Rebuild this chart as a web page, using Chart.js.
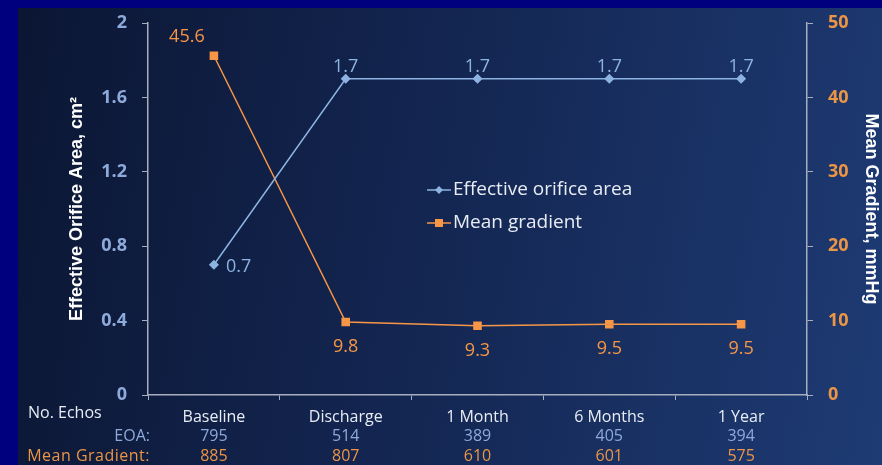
<!DOCTYPE html>
<html>
<head>
<meta charset="utf-8">
<script src="https://cdn.jsdelivr.net/npm/chart.js@4"></script>
<style>
  html, body { margin: 0; padding: 0; width: 882px; height: 465px; overflow: hidden; background: #00007f; }
  #panel {
    position: absolute; left: 18px; top: 8px; width: 864px; height: 457px;
    background: linear-gradient(100deg, #0b1633 0%, #132550 45%, #1e3b74 100%);
  }
  canvas { display: block; }
</style>
</head>
<body>
<div id="panel"><canvas id="chart" width="864" height="457"></canvas></div>
<script>
const categories = ['Baseline', 'Discharge', '1 Month', '6 Months', '1 Year'];
const eoaValues = [0.7, 1.7, 1.7, 1.7, 1.7];
const gradientValues = [45.6, 9.8, 9.3, 9.5, 9.5];
const eoaEchos = [795, 514, 389, 405, 394];
const gradientEchos = [885, 807, 610, 601, 575];
const eoaTicks = [0, 0.4, 0.8, 1.2, 1.6, 2];
const gradientTicks = [0, 10, 20, 30, 40, 50];

const BLUE = '#8db3e2';
const BLUE_TEXT = '#8eaadb';
const ORANGE = '#f79646';
const ORANGE_TEXT = '#eb9545';
const WHITE = '#e8ecf4';
const AXIS = '#a7aebd';
const FONT = '"Open Sans", Lato, sans-serif';
const TITLE_FONT = '"Liberation Sans", Arial, sans-serif';

// point value labels
const valueLabels = {
  id: 'valueLabels',
  afterDatasetsDraw(chart) {
    const ctx = chart.ctx;
    ctx.save();
    ctx.font = '18px ' + FONT;
    ctx.textBaseline = 'middle';
    chart.getDatasetMeta(0).data.forEach((pt, i) => {
      ctx.fillStyle = BLUE;
      if (i === 0) {
        ctx.textAlign = 'left';
        ctx.fillText(String(eoaValues[i]), pt.x + 12, pt.y + 2);
      } else {
        ctx.textAlign = 'center';
        ctx.fillText(String(eoaValues[i]), pt.x, pt.y - 12);
      }
    });
    chart.getDatasetMeta(1).data.forEach((pt, i) => {
      ctx.fillStyle = ORANGE;
      ctx.textAlign = 'center';
      if (i === 0) ctx.fillText(String(gradientValues[i]), pt.x - 27, pt.y - 19);
      else ctx.fillText(String(gradientValues[i]), pt.x, pt.y + 25);
    });
    ctx.restore();
  }
};

// legend inside the plot area
const innerLegend = {
  id: 'innerLegend',
  afterDraw(chart) {
    const ctx = chart.ctx;
    const x0 = 409, rows = [
      { y: 182, color: BLUE, text: 'Effective orifice area', style: 'diamond' },
      { y: 215, color: ORANGE, text: 'Mean gradient', style: 'square' }
    ];
    ctx.save();
    rows.forEach(r => {
      ctx.strokeStyle = r.color;
      ctx.fillStyle = r.color;
      ctx.lineWidth = 1.5;
      ctx.beginPath();
      ctx.moveTo(x0, r.y);
      ctx.lineTo(x0 + 24, r.y);
      ctx.stroke();
      const cx = x0 + 12;
      ctx.beginPath();
      if (r.style === 'diamond') {
        ctx.moveTo(cx, r.y - 4); ctx.lineTo(cx + 4, r.y); ctx.lineTo(cx, r.y + 4); ctx.lineTo(cx - 4, r.y);
        ctx.closePath(); ctx.fill();
      } else {
        ctx.fillRect(cx - 4, r.y - 4, 8, 8);
      }
      ctx.fillStyle = WHITE;
      ctx.font = '19px ' + FONT;
      ctx.textAlign = 'left';
      ctx.textBaseline = 'middle';
      ctx.fillText(r.text, x0 + 26, r.y);
    });
    ctx.restore();
  }
};

// echo counts under the category axis
const echoTable = {
  id: 'echoTable',
  afterDraw(chart) {
    const ctx = chart.ctx;
    const xs = chart.scales.x;
    ctx.save();
    ctx.textBaseline = 'middle';
    ctx.font = '16px ' + FONT;
    ctx.fillStyle = WHITE;
    ctx.textAlign = 'left';
    ctx.fillText('No. Echos', 10, 405);
    ctx.textAlign = 'right';
    ctx.fillStyle = BLUE_TEXT;
    ctx.fillText('EOA:', 132, 428);
    ctx.fillStyle = ORANGE_TEXT;
    ctx.letterSpacing = '0.5px';
    ctx.fillText('Mean Gradient:', 132, 448);
    ctx.letterSpacing = '0px';
    ctx.textAlign = 'center';
    categories.forEach((c, i) => {
      const x = xs.getPixelForValue(i);
      ctx.fillStyle = BLUE_TEXT;
      ctx.fillText(String(eoaEchos[i]), x, 428);
      ctx.fillStyle = ORANGE_TEXT;
      ctx.fillText(String(gradientEchos[i]), x, 448);
    });
    ctx.restore();
  }
};

new Chart(document.getElementById('chart'), {
  type: 'line',
  data: {
    labels: categories,
    datasets: [
      {
        label: 'Effective orifice area', data: eoaValues, yAxisID: 'y',
        borderColor: BLUE, backgroundColor: BLUE, borderWidth: 1.5,
        pointStyle: 'rectRot', pointRadius: 4, pointHoverRadius: 4
      },
      {
        label: 'Mean gradient', data: gradientValues, yAxisID: 'y1',
        borderColor: ORANGE, backgroundColor: ORANGE, borderWidth: 1.5,
        pointStyle: 'rect', pointRadius: 5, pointHoverRadius: 5
      }
    ]
  },
  options: {
    responsive: false,
    animation: false,
    devicePixelRatio: 1,
    layout: { padding: { top: 15, left: 0, right: 0, bottom: 0 } },
    plugins: { legend: { display: false }, tooltip: { enabled: false } },
    scales: {
      x: {
        offset: true,
        grid: { display: true, drawOnChartArea: false, offset: true, tickLength: 5, color: AXIS },
        border: { color: AXIS, width: 1.5 },
        ticks: { color: WHITE, font: { family: FONT, size: 16 }, padding: 8, maxRotation: 0 },
        afterFit(s) { s.height = 70; s.paddingLeft = 0; s.paddingRight = 0; }
      },
      y: {
        position: 'left', min: 0, max: 2,
        afterBuildTicks(s) { s.ticks = eoaTicks.map(v => ({ value: v })); },
        grid: { display: true, drawOnChartArea: false, tickLength: 6, color: AXIS },
        border: { color: AXIS, width: 1.5 },
        ticks: { color: BLUE_TEXT, font: { family: FONT, size: 18, weight: 'bold' }, padding: 15, callback: v => String(v) },
        title: { display: true, text: 'Effective Orifice Area, cm²', color: '#ffffff',
          font: { family: TITLE_FONT, size: 18, weight: 'bold' }, padding: { top: 48, bottom: 0 } },
        afterFit(s) { s.width = 130; s.paddingTop = 0; s.paddingBottom = 0; }
      },
      y1: {
        position: 'right', min: 0, max: 50,
        afterBuildTicks(s) { s.ticks = gradientTicks.map(v => ({ value: v })); },
        grid: { display: true, drawOnChartArea: false, tickLength: 6, color: AXIS },
        border: { color: AXIS, width: 1.5 },
        ticks: { color: ORANGE_TEXT, font: { family: FONT, size: 18, weight: 'bold' }, padding: 15, callback: v => String(v) },
        title: { display: true, text: 'Mean Gradient, mmHg', color: '#ffffff',
          font: { family: TITLE_FONT, size: 18, weight: 'bold' }, padding: { top: 0, bottom: 0 } },
        afterFit(s) { s.width = 75; s.paddingTop = 0; s.paddingBottom = 0; }
      }
    }
  },
  plugins: [valueLabels, innerLegend, echoTable]
});
</script>
</body>
</html>
